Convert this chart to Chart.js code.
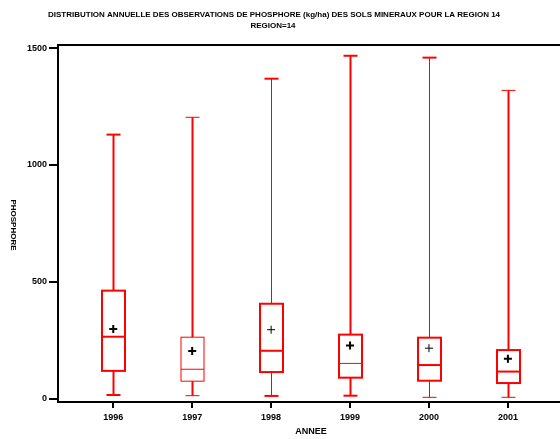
<!DOCTYPE html>
<html>
<head>
<meta charset="utf-8">
<script src="https://cdn.jsdelivr.net/npm/chart.js@4/dist/chart.umd.min.js"></script>
<style>
  html, body { margin: 0; padding: 0; background: #fff; }
  #wrap { width: 560px; height: 439px; }
</style>
</head>
<body>
<div id="wrap"><canvas id="c"></canvas></div>
<script>
// ===============================
// DONNEES
// ===============================
const years = ['1996', '1997', '1998', '1999', '2000', '2001'];
const whiskerLow = [17, 14, 13, 14, 7, 7];
const q1 = [120, 76, 115, 91, 78, 68];
const median = [266, 127, 206, 152, 145, 117];
const q3 = [463, 264, 407, 275, 262, 209];
const whiskerHigh = [1130, 1204, 1369, 1467, 1459, 1319];
const means = [299, 205, 296, 229, 217, 172];
const yTicks = [0, 500, 1000, 1500];

const titleLine1 = 'DISTRIBUTION ANNUELLE DES OBSERVATIONS DE PHOSPHORE (kg/ha) DES SOLS MINERAUX POUR LA REGION 14';
const titleLine2 = 'REGION=14';

// epaisseurs de trait (style, pas des donnees)
const boxW = [2, 1, 2, 2, 2, 2];
const medW = [2, 1, 2, 1, 2, 2];
const whiskW = [2, 2, 1, 2, 1, 2];
const capTopW = [2, 1, 2, 2, 2, 1];
const capLowW = [2, 1, 2, 2, 1, 1];
const meanW = [2, 2, 1, 2, 1, 2];

const RED = '#ff0000';
const FONT = '"Liberation Sans", Arial, sans-serif';

// ===============================
// PLUGIN BOITES
// ===============================
const boxPlugin = {
  id: 'boxes',
  beforeDatasetsDraw(chart) {
    const { ctx, scales: { x, y } } = chart;
    const half = 11.5, cap = 7;
    ctx.save();
    ctx.strokeStyle = RED;
    years.forEach((_, i) => {
      const cx = Math.round(x.getPixelForValue(i)) + 0.5;
      const yl = y.getPixelForValue(whiskerLow[i]);
      const y1 = y.getPixelForValue(q1[i]);
      const ym = y.getPixelForValue(median[i]);
      const y3 = y.getPixelForValue(q3[i]);
      const yh = y.getPixelForValue(whiskerHigh[i]);
      const line = (w, x0, ya, x1, yb) => {
        ctx.lineWidth = w;
        ctx.beginPath(); ctx.moveTo(x0, ya); ctx.lineTo(x1, yb); ctx.stroke();
      };
      // moustaches
      line(whiskW[i], cx, y3, cx, yh);
      line(whiskW[i], cx, y1, cx, yl);
      line(capTopW[i], cx - cap, yh, cx + cap, yh);
      line(capLowW[i], cx - cap, yl, cx + cap, yl);
      // boite
      ctx.lineWidth = boxW[i];
      ctx.strokeRect(cx - half, y3, half * 2, y1 - y3);
      line(medW[i], cx - half, ym, cx + half, ym);
    });
    ctx.restore();
  },
  afterDraw(chart) {
    const { ctx, chartArea: a } = chart;
    ctx.save();
    ctx.fillStyle = '#000';
    ctx.strokeStyle = '#000';
    // cadre haut
    ctx.lineWidth = 2;
    ctx.beginPath(); ctx.moveTo(a.left - 1, a.top); ctx.lineTo(560, a.top); ctx.stroke();
    ctx.textAlign = 'center';
    ctx.textBaseline = 'middle';
    ctx.font = 'bold 8px ' + FONT;
    ctx.fillText(titleLine1, 274, 15, 458);
    ctx.fillText(titleLine2, 273, 26);
    ctx.font = 'bold 9px ' + FONT;
    ctx.fillText('ANNEE', 311, 432);
    ctx.save();
    ctx.translate(13, 225);
    ctx.rotate(Math.PI / 2);
    ctx.font = 'bold 8px ' + FONT;
    ctx.fillText('PHOSPHORE', 0, 0, 76);
    ctx.restore();
    ctx.restore();
  }
};

// ===============================
// GRAPHIQUE
// ===============================
new Chart(document.getElementById('c'), {
  type: 'scatter',
  data: {
    datasets: [{
      label: 'Moyenne',
      data: means.map((m, i) => ({ x: i, y: m })),
      pointStyle: 'cross',
      pointRadius: 4,
      pointHoverRadius: 4,
      borderColor: '#000',
      backgroundColor: '#000',
      pointBorderWidth: meanW
    }]
  },
  options: {
    responsive: true,
    maintainAspectRatio: false,
    animation: false,
    events: [],
    layout: { autoPadding: false, padding: { top: 45, left: 0, right: 0, bottom: 0 } },
    plugins: {
      legend: { display: false },
      tooltip: { enabled: false }
    },
    scales: {
      x: {
        type: 'linear',
        min: -0.7,
        max: 5.66,
        afterBuildTicks: s => { s.ticks = years.map((_, i) => ({ value: i })); },
        afterFit: s => { s.height = 37; s.paddingLeft = 0; s.paddingRight = 0; },
        ticks: {
          callback: v => years[v],
          color: '#000',
          font: { family: FONT, size: 9, weight: 'bold' },
          padding: 4,
          maxRotation: 0,
          autoSkip: false
        },
        grid: { drawOnChartArea: false, drawTicks: true, tickLength: 6, color: '#000', lineWidth: 2 },
        border: { color: '#000', width: 2 }
      },
      y: {
        min: -13,
        max: 1513,
        afterBuildTicks: s => { s.ticks = yTicks.map(v => ({ value: v })); },
        afterFit: s => { s.width = 58; s.paddingTop = 0; s.paddingBottom = 0; },
        ticks: {
          callback: v => String(v),
          color: '#000',
          font: { family: FONT, size: 9, weight: 'bold' },
          padding: 2
        },
        grid: { drawOnChartArea: false, drawTicks: true, tickLength: 9, color: '#000', lineWidth: 2 },
        border: { color: '#000', width: 2 }
      }
    }
  },
  plugins: [boxPlugin]
});
</script>
</body>
</html>
